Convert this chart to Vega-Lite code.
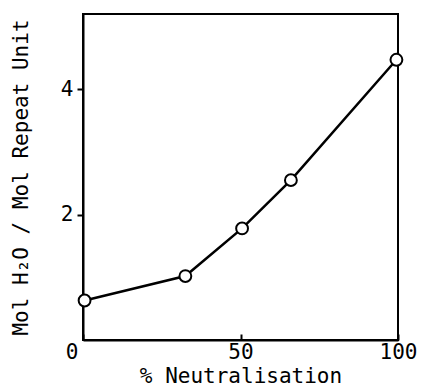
{
  "$schema": "https://vega.github.io/schema/vega-lite/v6.json",
  "width": 315,
  "height": 326,
  "autosize": "none",
  "padding": {"left": 83, "top": 14, "right": 23, "bottom": 50},
  "background": "white",
  "config": {
    "view": {"stroke": "black", "strokeWidth": 2},
    "font": "DejaVu Sans Mono",
    "axis": {
      "grid": false,
      "domainColor": "black",
      "domainWidth": 2,
      "tickColor": "black",
      "tickWidth": 2,
      "labelColor": "black",
      "titleColor": "black",
      "labelFont": "DejaVu Sans Mono",
      "titleFont": "DejaVu Sans Mono",
      "labelFontSize": 21,
      "titleFontSize": 21,
      "titleFontWeight": "normal"
    }
  },
  "data": {
    "values": [
      {"neut": 0.5, "mol": 0.63},
      {"neut": 32.5, "mol": 1.02},
      {"neut": 50.5, "mol": 1.78},
      {"neut": 66, "mol": 2.55},
      {"neut": 99.5, "mol": 4.47}
    ]
  },
  "layer": [
    {
      "mark": {"type": "line", "color": "black", "strokeWidth": 2.5},
      "encoding": {
        "x": {
          "field": "neut", "type": "quantitative",
          "scale": {"domain": [0, 100], "nice": false},
          "axis": {
            "values": [0, 50, 100], "tickSize": -6, "labelPadding": 7,
            "format": "d",
            "title": "% Neutralisation", "titlePadding": 3,
            "labelAlign": {"expr": "datum.value == 0 ? 'right' : 'center'"},
            "labelOffset": {"expr": "datum.value == 0 ? -5 : 0"}
          }
        },
        "y": {
          "field": "mol", "type": "quantitative",
          "scale": {"domain": [0, 5.2], "nice": false},
          "axis": {
            "values": [2, 4], "tickSize": 6, "labelPadding": 4,
            "format": "d",
            "title": "Mol H₂O / Mol Repeat Unit", "titlePadding": 29
          }
        }
      }
    },
    {
      "mark": {"type": "point", "shape": "circle", "filled": true, "fill": "white", "stroke": "black", "strokeWidth": 2, "size": 140, "opacity": 1},
      "encoding": {
        "x": {"field": "neut", "type": "quantitative"},
        "y": {"field": "mol", "type": "quantitative"}
      }
    }
  ]
}
